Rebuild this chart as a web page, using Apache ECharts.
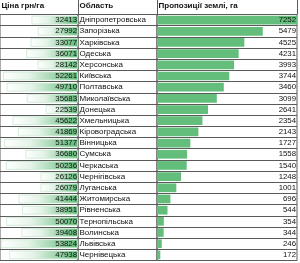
<!DOCTYPE html>
<html><head><meta charset="utf-8">
<script src="https://cdn.jsdelivr.net/npm/echarts@6/dist/echarts.min.js"></script>
<style>html,body{margin:0;padding:0;background:#fff}#c{width:300px;height:263px}</style>
</head><body><div id="c"></div>
<script>
const headers = ['Ціна грн/га', 'Область', 'Пропозиції землі, га'];
const regions = ['Дніпропетровська','Запорізька','Харківська','Одеська','Херсонська','Київська','Полтавська','Миколаївська','Донецька','Хмельницька','Кіровоградська','Вінницька','Сумська','Черкаська','Чернігівська','Луганська','Житомирська','Рівненська','Тернопільська','Волинська','Львівська','Чернівецька'];
const prices = [32413,27992,33077,36071,28142,52261,49710,35683,22539,45622,41869,51377,36680,50236,26126,26079,41444,38951,50070,39408,53824,47938];
const offers = [7252,5479,4525,4231,3993,3744,3460,3099,2641,2354,2143,1727,1558,1540,1248,1001,696,544,354,344,246,172];

const priceMax = Math.max(...prices) * 1.01;
const offerMax = Math.max(...offers);
const FONT = 'Liberation Sans';
const LINE = '#5a5a5a';
const GREEN = '#63BE7B';
const TOP = 14.5, BOTTOM = 2.5;

const cols = [{left: 0, width: 78}, {left: 78, width: 79}, {left: 157, width: 140}];

const grid = cols.map(c => ({left: c.left, width: c.width, top: TOP, bottom: BOTTOM, show: true, borderColor: LINE, borderWidth: 1, containLabel: false}));
const yAxis = cols.map((c, i) => ({
  type: 'category', gridIndex: i, inverse: true, data: regions,
  axisLine: {show: false}, axisTick: {show: false},
  splitLine: {show: true, interval: 0, lineStyle: {color: LINE, width: 1}},
  axisLabel: i === 1 ? {show: true, inside: true, interval: 0, margin: 1.5, fontFamily: FONT, fontSize: 8, color: '#111'} : {show: false}
}));
const xAxis = [
  {type: 'value', gridIndex: 0, min: 0, max: priceMax, show: false},
  {type: 'value', gridIndex: 1, min: 0, max: 1, show: false},
  {type: 'value', gridIndex: 2, min: 0, max: offerMax, show: false}
];

const lbl = {show: true, position: 'insideRight', distance: 1, fontFamily: FONT, fontSize: 7.8, color: '#111'};

const series = [
  {type: 'bar', xAxisIndex: 0, yAxisIndex: 0, stack: 'p', silent: true, barWidth: '78%',
   data: prices.map(v => priceMax - v), itemStyle: {color: 'rgba(0,0,0,0)'}},
  {type: 'bar', xAxisIndex: 0, yAxisIndex: 0, stack: 'p', barWidth: '78%', data: prices,
   itemStyle: {color: {type: 'linear', x: 0, y: 0, x2: 1, y2: 0, colorStops: [{offset: 0, color: '#ffffff'}, {offset: 0.35, color: '#e4f3e8'}, {offset: 1, color: '#5cb874'}]},
     borderColor: '#c9e8d1', borderWidth: 0.8},
   label: lbl},
  {type: 'bar', xAxisIndex: 2, yAxisIndex: 2, stack: 'o', barWidth: '78%', data: offers,
   itemStyle: {color: GREEN}},
  {type: 'bar', xAxisIndex: 2, yAxisIndex: 2, stack: 'o', silent: true, barWidth: '78%',
   data: offers.map(v => offerMax - v), itemStyle: {color: 'rgba(0,0,0,0)'},
   label: Object.assign({}, lbl, {formatter: p => String(offers[p.dataIndex])})}
];

const graphic = [];
cols.forEach((c, i) => {
  graphic.push({type: 'text', left: c.left + 1.5, top: 2, style: {text: headers[i], font: 'bold 8px "' + FONT + '"', fill: '#111'}});
});
[78, 157, 297].forEach(x => graphic.push({type: 'line', shape: {x1: x + 0.5, y1: 0, x2: x + 0.5, y2: TOP}, style: {stroke: LINE, lineWidth: 1}}));

const chart = echarts.init(document.getElementById('c'), null, {renderer: 'canvas'});
chart.setOption({animation: false, backgroundColor: '#fff', grid, xAxis, yAxis, series, graphic});
</script></body></html>
